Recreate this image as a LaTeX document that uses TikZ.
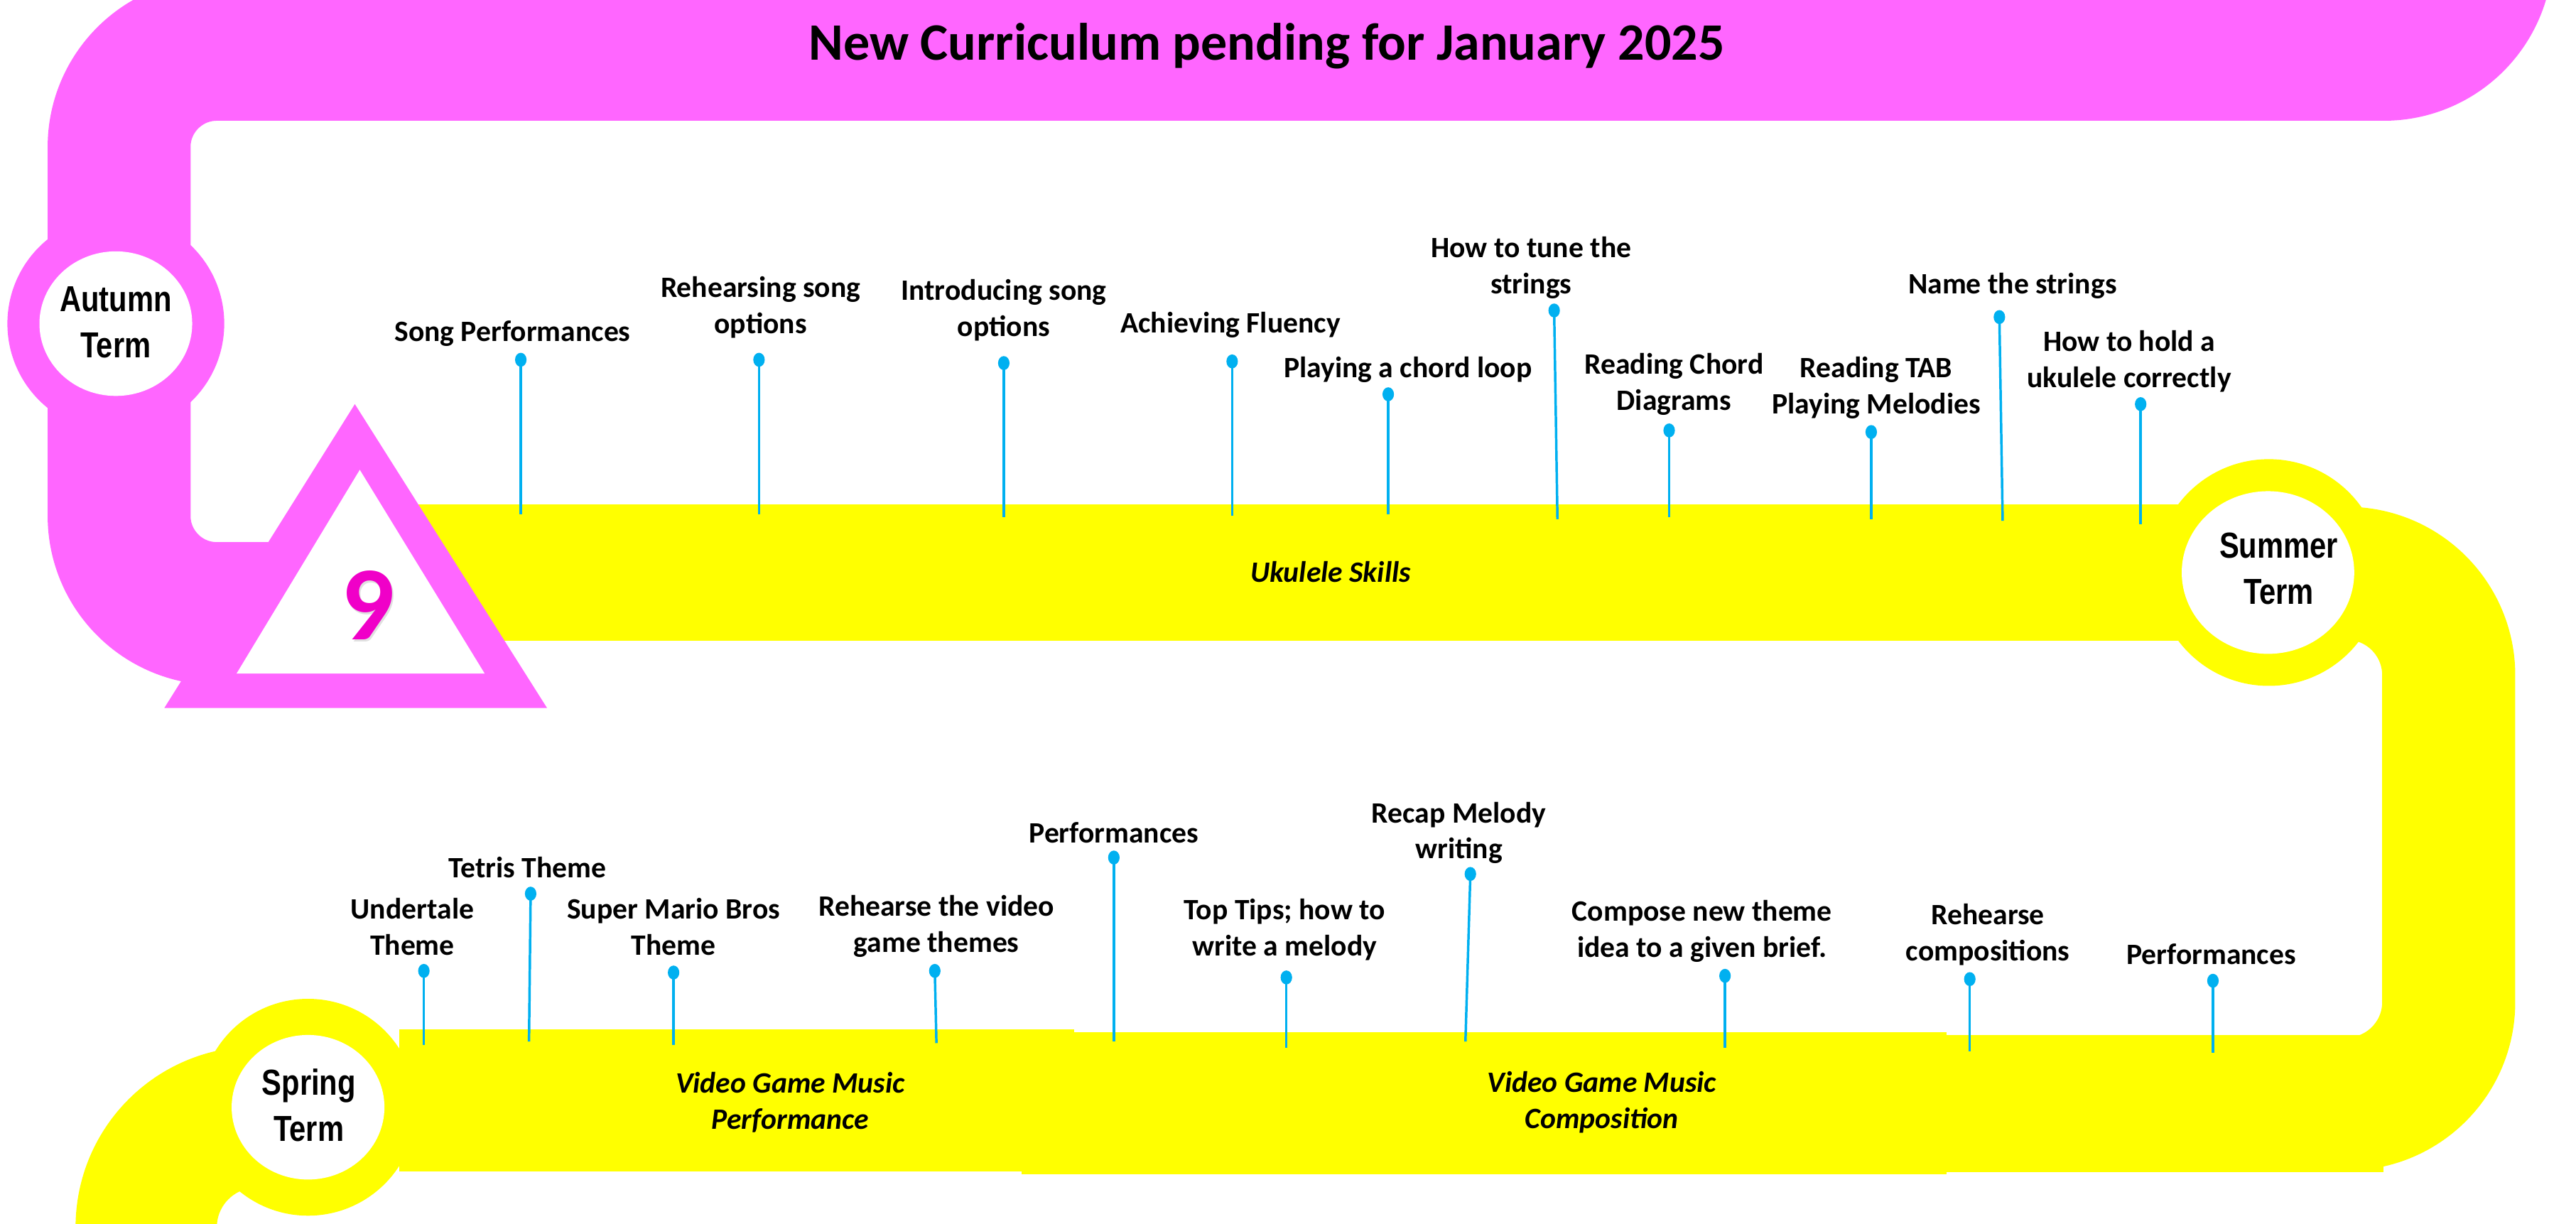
\documentclass[tikz,border=0pt]{standalone}
\usepackage{fontspec}
\setmainfont{Carlito}
\newfontfamily\termfont{Liberation Sans}
\usetikzlibrary{shapes.geometric}
\definecolor{pinkc}{RGB}{255,102,255}
\definecolor{yelc}{RGB}{255,255,0}
\definecolor{bluec}{RGB}{0,176,240}
\definecolor{ninec}{RGB}{240,0,200}
\tikzset{
  pipeP/.style={line width=87pt, draw=pinkc, rounded corners=59.5pt},
  pipeY/.style={line width=81pt, draw=yelc, rounded corners=62pt},
  pipeS/.style={line width=86pt, draw=yelc, rounded corners=67pt},
  dotnode/.style={ellipse, fill=bluec, minimum width=7pt, minimum height=8.5pt, inner sep=0pt},
  pinline/.style={draw=bluec, line width=1.5pt},
  lbl/.style={font=\bfseries\fontsize{18}{22}\selectfont, align=center, inner sep=0pt, text=black},
  bandlbl/.style={font=\bfseries\itshape\fontsize{18}{22}\selectfont, align=center, inner sep=0pt},
  termlbl/.style={font=\termfont\bfseries\fontsize{22}{28}\selectfont, inner sep=0pt},
}
\newcommand\mypin[8]{%
  \coordinate (#1b) at (#4,#5);
  \draw[pinline] (#2,#3) -- (#1b);
  \node[dotnode] (#1d) at (#2,#3) {};
  \node[lbl] (#1t) at (#6,#7) {#8};
}
\newcommand\termtext[1]{\scalebox{0.82}[1]{\begin{tabular}{@{}c@{}}#1\end{tabular}}}
\begin{document}
\begin{tikzpicture}[x=1pt,y=-1pt]
\useasboundingbox (0,0) rectangle (1568,745);
\clip (0,0) rectangle (1568,745);
\fill[white] (0,0) rectangle (1568,745);
% pink pipe
\draw[pipeP] (1510.5,-250) -- (1510.5,30) -- (72.5,30) -- (72.5,373.5) -- (230,373.5);
% autumn ring
\fill[pinkc] (70.5,197) ellipse[x radius=66, y radius=66];
\fill[white] (70.5,197) ellipse[x radius=46.5, y radius=44];
\node[termlbl] (autumn) at (70.5,198) {\termtext{Autumn\\Term}};
% title
\node[font=\bfseries\fontsize{32}{38}\selectfont, inner sep=0pt] (title) at (771,28) {New Curriculum pending for January 2025};
% yellow top band and right pipe
\fill[yelc] (250,307) rectangle (1340,390);
\draw[pipeY] (1380,349) -- (1490.5,349) -- (1490.5,672) -- (1400,672);
% lower band
\fill[yelc] (243,626.6) rectangle (654,713);
\fill[yelc] (622,628.3) rectangle (1185,714.7);
\fill[yelc] (1185,630) rectangle (1451,713.5);
% spring pipe
\draw[pipeS] (190,680) -- (89,680) -- (89,900);
% triangle
\fill[pinkc] (216,246) -- (333,431) -- (100,431) -- cycle;
\fill[white] (219,286) -- (295,410) -- (144,410) -- cycle;
\node[font=\bfseries\fontsize{64}{64}\selectfont, text=black!40, opacity=0.3, inner sep=0pt] at (225,369.5) {9};
\node[font=\bfseries\fontsize{64}{64}\selectfont, text=ninec, inner sep=0pt] (nine) at (224,368.5) {9};
% summer ring
\fill[yelc] (1381,348.5) ellipse[x radius=69, y radius=69];
\fill[white] (1380.5,348.5) ellipse[x radius=52.5, y radius=49.5];
\node[termlbl] (summer) at (1387,348) {\termtext{Summer\\Term}};
% spring ring
\fill[yelc] (187.5,674) ellipse[x radius=66, y radius=66];
\fill[white] (187.5,674) ellipse[x radius=46.5, y radius=44];
\node[termlbl] (spring) at (188,675) {\termtext{Spring\\Term}};
% band labels
\node[bandlbl] (uku) at (810,348) {Ukulele Skills};
\node[bandlbl] (vgp) at (481,671) {Video Game Music\\Performance};
\node[bandlbl] (vgc) at (975,671) {Video Game Music\\Composition};
% top pins
\mypin{ta}{317}{219}{317}{313}{312}{203}{Song Performances}
\mypin{tb}{462}{219}{462}{313}{463}{187}{Rehearsing song\\options}
\mypin{tc}{611}{221}{611}{315}{611}{189}{Introducing song\\options}
\mypin{td}{750}{220}{750}{314}{749}{198}{Achieving Fluency}
\mypin{te}{845}{240}{845}{313}{857}{225}{Playing a chord loop}
\mypin{tf}{946}{189}{948}{316}{932}{163}{How to tune the\\strings}
\mypin{tg}{1016}{262}{1016}{315}{1019}{234}{Reading Chord\\Diagrams}
\mypin{th}{1139}{263}{1139}{316}{1142}{236}{Reading TAB\\Playing Melodies}
\mypin{ti}{1217}{193}{1219}{317}{1225}{174}{Name the strings}
\mypin{tj}{1303}{246}{1303}{319}{1296}{220}{How to hold a\\ukulele correctly}
% bottom pins
\mypin{ba}{258}{591}{258}{636}{251}{564}{Undertale\\Theme}
\mypin{bb}{323}{544}{322}{634}{321}{528}{Tetris Theme}
\mypin{bc}{410}{592}{410}{636}{410}{564}{Super Mario Bros\\Theme}
\mypin{bd}{569}{591}{570}{635}{570}{564}{Rehearse the video\\game themes}
\mypin{be}{678}{522}{678}{634}{678}{507}{Performances}
\mypin{bf}{783}{595}{783}{638}{782}{566}{Top Tips; how to\\write a melody}
\mypin{bg}{895}{532}{892}{634}{888}{507}{Recap Melody\\writing}
\mypin{bh}{1050}{594}{1050}{638}{1036}{567}{Compose new theme\\idea to a given brief.}
\mypin{bi}{1199}{596}{1199}{640}{1210}{569}{Rehearse\\compositions}
\mypin{bj}{1347}{597}{1347}{641}{1346}{581}{Performances}
\end{tikzpicture}
\end{document}
